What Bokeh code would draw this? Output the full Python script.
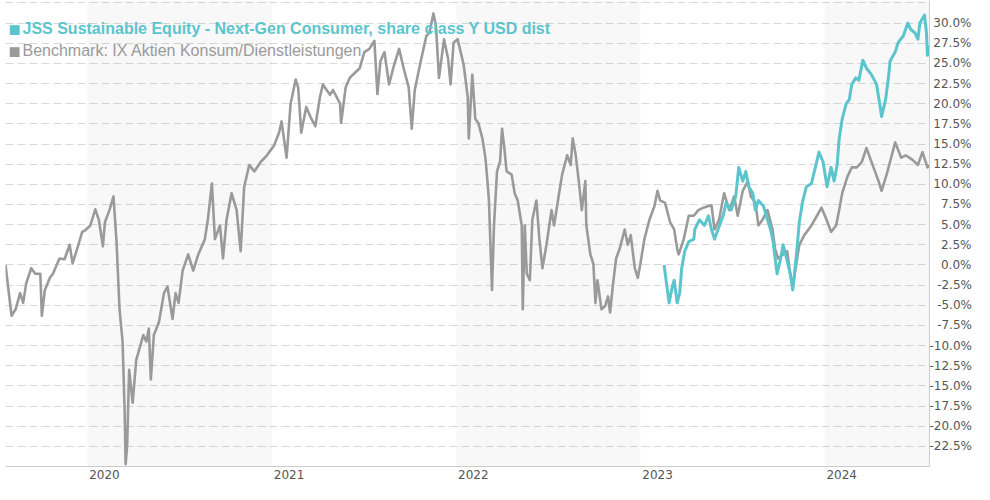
import pandas as pd
from bokeh.plotting import figure
from bokeh.models import (ColumnDataSource, FixedTicker, BoxAnnotation, Label, Range1d)
from bokeh.embed import file_html
from bokeh.resources import INLINE

# ---------------- data ----------------
fund_name = "JSS Sustainable Equity - Next-Gen Consumer, share class Y USD dist"
bench_name = "Benchmark: IX Aktien Konsum/Dienstleistungen"

bench_dates = [
    "2019-07-23", "2019-08-04", "2019-08-12", "2019-08-21", "2019-08-27", "2019-09-02",
    "2019-09-12", "2019-09-20", "2019-09-30", "2019-10-03", "2019-10-09", "2019-10-19",
    "2019-10-25", "2019-11-07", "2019-11-17", "2019-11-27", "2019-12-03", "2019-12-12",
    "2019-12-22", "2019-12-28", "2020-01-07", "2020-01-17", "2020-01-24", "2020-02-01",
    "2020-02-05", "2020-02-14", "2020-02-22", "2020-02-28", "2020-03-05", "2020-03-11",
    "2020-03-15", "2020-03-17", "2020-03-20", "2020-03-24", "2020-03-31", "2020-04-07",
    "2020-04-21", "2020-04-27", "2020-05-02", "2020-05-06", "2020-05-12", "2020-05-22",
    "2020-06-01", "2020-06-08", "2020-06-18", "2020-06-24", "2020-06-30", "2020-07-08",
    "2020-07-19", "2020-07-29", "2020-08-08", "2020-08-21", "2020-08-27", "2020-09-04",
    "2020-09-10", "2020-09-20", "2020-09-26", "2020-10-03", "2020-10-13", "2020-10-23",
    "2020-10-31", "2020-11-07", "2020-11-17", "2020-11-27", "2020-12-10", "2020-12-22",
    "2021-01-05", "2021-01-15", "2021-01-20", "2021-01-30", "2021-02-07", "2021-02-17",
    "2021-02-22", "2021-02-28", "2021-03-10", "2021-03-18", "2021-03-28", "2021-04-06",
    "2021-04-12", "2021-04-16", "2021-04-26", "2021-05-02", "2021-05-16", "2021-05-18",
    "2021-05-27", "2021-06-04", "2021-06-14", "2021-06-24", "2021-07-03", "2021-07-13",
    "2021-07-23", "2021-07-29", "2021-08-04", "2021-08-12", "2021-08-21", "2021-08-31",
    "2021-09-10", "2021-09-19", "2021-09-29", "2021-10-05", "2021-10-11", "2021-10-24",
    "2021-11-03", "2021-11-09", "2021-11-17", "2021-11-22", "2021-11-28", "2021-12-08",
    "2021-12-16", "2021-12-21", "2021-12-27", "2022-01-04", "2022-01-10", "2022-01-16",
    "2022-01-24", "2022-01-26", "2022-02-02", "2022-02-08", "2022-02-14", "2022-02-22",
    "2022-02-28", "2022-03-04", "2022-03-07", "2022-03-13", "2022-03-17", "2022-03-23",
    "2022-03-29", "2022-04-02", "2022-04-06", "2022-04-11", "2022-04-21", "2022-04-27",
    "2022-05-03", "2022-05-11", "2022-05-13", "2022-05-17", "2022-05-21", "2022-05-27",
    "2022-06-01", "2022-06-09", "2022-06-15", "2022-06-21", "2022-06-29", "2022-07-09",
    "2022-07-14", "2022-07-24", "2022-07-30", "2022-08-09", "2022-08-16", "2022-08-20",
    "2022-08-26", "2022-09-01", "2022-09-07", "2022-09-14", "2022-09-16", "2022-09-24",
    "2022-09-30", "2022-10-04", "2022-10-08", "2022-10-16", "2022-10-23", "2022-10-29",
    "2022-11-02", "2022-11-08", "2022-11-14", "2022-11-21", "2022-12-01", "2022-12-07",
    "2022-12-13", "2022-12-21", "2022-12-27", "2023-01-01", "2023-01-09", "2023-01-19",
    "2023-01-29", "2023-02-04", "2023-02-09", "2023-02-19", "2023-03-01", "2023-03-09",
    "2023-03-15", "2023-03-18", "2023-03-28", "2023-04-07", "2023-04-17", "2023-04-26",
    "2023-05-06", "2023-05-16", "2023-05-22", "2023-05-28", "2023-06-06", "2023-06-16",
    "2023-06-26", "2023-07-06", "2023-07-13", "2023-07-23", "2023-08-02", "2023-08-08",
    "2023-08-17", "2023-08-23", "2023-08-31", "2023-09-10", "2023-09-20", "2023-09-25",
    "2023-10-01", "2023-10-11", "2023-10-19", "2023-10-25", "2023-10-30", "2023-11-07",
    "2023-11-12", "2023-11-22", "2023-12-06", "2023-12-17", "2023-12-26", "2024-01-05",
    "2024-01-14", "2024-01-24", "2024-01-30", "2024-02-05", "2024-02-15", "2024-02-24",
    "2024-03-05", "2024-03-15", "2024-03-24", "2024-04-07", "2024-04-17", "2024-04-23",
    "2024-05-03", "2024-05-12", "2024-05-20", "2024-06-01", "2024-06-10", "2024-06-24",
    "2024-07-04", "2024-07-13", "2024-07-23", "2024-07-27",
]
bench_values = [
    0.0, -6.3, -5.5, -3.5, -4.7, -2.3,
    -0.4, -1.1, -1.1, -6.3, -3.1, -1.6,
    -1.1, 0.8, 0.7, 2.5, 0.2, 2.0,
    4.1, 4.3, 4.9, 6.9, 5.6, 2.3,
    5.3, 6.8, 8.5, 2.9, -5.5, -9.5,
    -18.0, -24.7, -22.5, -13.0, -17.1, -11.8,
    -8.7, -9.5, -7.9, -14.2, -8.7, -7.1,
    -3.5, -2.7, -6.7, -3.5, -4.7, -0.7,
    1.3, -0.7, 1.3, 3.2, 5.6, 10.1,
    3.2, 4.9, 0.8, 5.6, 8.9, 6.8,
    1.7, 9.7, 12.4, 11.6, 12.8, 13.6,
    14.8, 16.4, 17.8, 13.3, 20.0, 23.0,
    22.0, 16.4, 19.6, 18.4, 17.2, 20.8,
    22.4, 22.0, 21.1, 21.7, 20.0, 17.6,
    22.0, 23.2, 23.8, 24.4, 26.4, 26.8,
    27.8, 21.2, 25.3, 26.4, 22.4, 24.8,
    26.8, 24.4, 22.0, 16.9, 21.7, 25.6,
    28.4, 28.8, 31.2, 29.6, 23.2, 28.0,
    25.6, 22.4, 27.6, 28.0, 26.4, 24.8,
    20.8, 15.7, 23.6, 18.1, 17.6, 15.7,
    13.3, 10.4, 8.0, -3.1, 4.9, 11.6,
    12.8, 16.9, 14.8, 11.6, 11.2, 8.9,
    8.0, 4.9, -5.5, 4.9, -1.1, -1.9,
    5.6, 8.0, 3.2, -0.4, 2.5, 6.8,
    4.9, 8.9, 11.2, 13.6, 12.4, 15.7,
    13.6, 10.4, 6.8, 10.4, 4.9, 1.3,
    0.1, -4.7, -1.9, -5.5, -5.1, -3.9,
    -5.9, -2.3, 0.8, 2.0, 4.4, 2.5,
    3.7, -0.4, -1.6, 0.1, 3.2, 5.6,
    7.3, 9.2, 8.0, 7.7, 5.3, 4.4,
    2.0, 1.3, 3.2, 6.1, 6.1, 6.8,
    7.1, 7.3, 7.4, 4.4, 5.6, 8.9,
    6.8, 8.5, 6.1, 9.2, 10.4, 8.5,
    7.7, 4.9, 5.6, 6.8, 4.4, 2.0,
    0.8, 1.3, 1.7, -1.1, -2.8, 0.5,
    2.5, 3.7, 4.9, 6.1, 7.1, 5.6,
    4.1, 4.9, 6.8, 8.9, 10.9, 12.1,
    12.1, 12.8, 14.5, 12.1, 10.4, 9.2,
    11.2, 13.3, 15.2, 13.3, 13.6, 13.0,
    12.4, 14.0, 12.1, 12.4,
]

fund_dates = [
    "2023-02-17", "2023-02-27", "2023-03-05", "2023-03-09", "2023-03-15", "2023-03-20",
    "2023-03-24", "2023-03-30", "2023-04-07", "2023-04-17", "2023-04-19", "2023-04-28",
    "2023-05-08", "2023-05-16", "2023-05-22", "2023-05-28", "2023-06-04", "2023-06-14",
    "2023-06-20", "2023-06-30", "2023-07-09", "2023-07-15", "2023-07-23", "2023-07-29",
    "2023-08-04", "2023-08-12", "2023-08-17", "2023-08-23", "2023-09-02", "2023-09-10",
    "2023-09-16", "2023-09-21", "2023-09-29", "2023-10-05", "2023-10-11", "2023-10-19",
    "2023-10-25", "2023-10-30", "2023-11-07", "2023-11-12", "2023-11-18", "2023-11-26",
    "2023-12-06", "2023-12-15", "2023-12-21", "2023-12-29", "2024-01-06", "2024-01-14",
    "2024-01-20", "2024-01-26", "2024-01-30", "2024-02-05", "2024-02-13", "2024-02-19",
    "2024-02-24", "2024-03-03", "2024-03-09", "2024-03-17", "2024-03-24", "2024-04-03",
    "2024-04-13", "2024-04-21", "2024-04-23", "2024-05-01", "2024-05-06", "2024-05-10",
    "2024-05-20", "2024-05-26", "2024-06-05", "2024-06-14", "2024-06-20", "2024-06-28",
    "2024-07-04", "2024-07-08", "2024-07-17", "2024-07-21", "2024-07-23", "2024-07-27",
]
fund_values = [
    0.0, -4.7, -2.8, -1.9, -4.7, -3.5,
    -0.4, 1.7, 2.9, 3.2, 4.4, 5.6,
    4.9, 6.1, 4.4, 3.2, 4.4, 6.1,
    7.7, 6.8, 8.5, 12.1, 10.4, 11.6,
    9.7, 8.9, 6.8, 8.0, 7.3, 5.6,
    4.4, 2.9, -1.1, 0.5, 2.5, 0.5,
    -1.1, -3.1, 1.7, 5.3, 7.7, 9.7,
    10.1, 12.4, 14.0, 12.8, 9.7, 12.1,
    10.4, 12.4, 15.7, 18.1, 20.0, 20.5,
    22.4, 23.2, 22.9, 25.4, 24.4, 23.6,
    22.4, 19.3, 18.4, 20.5, 22.9, 25.3,
    26.4, 27.6, 28.4, 30.0, 29.2, 28.8,
    28.0, 30.0, 31.0, 28.8, 26.0, 27.2,
]

ytick_values = [-22.5, -20.0, -17.5, -15.0, -12.5, -10.0, -7.5, -5.0, -2.5, 0.0,
                2.5, 5.0, 7.5, 10.0, 12.5, 15.0, 17.5, 20.0, 22.5, 25.0, 27.5, 30.0]
ytick_labels = ["-22.5%", "-20.0%", "-17.5%", "-15.0%", "-12.5%", "-10.0%", "-7.5%",
                "-5.0%", "-2.5%", "0.0%", "2.5%", "5.0%", "7.5%", "10.0%", "12.5%",
                "15.0%", "17.5%", "20.0%", "22.5%", "25.0%", "27.5%", "30.0%"]
grid_values = ytick_values + [32.5]   # top gridline has no label in the reference

year_starts = ["2020-01-01", "2021-01-01", "2022-01-01", "2023-01-01", "2024-01-01"]
year_labels = ["2020", "2021", "2022", "2023", "2024"]

shade_starts = ["2020-01-01", "2022-01-01", "2024-01-01"]
shade_ends = ["2021-01-01", "2023-01-01", "2024-07-27"]

x_start, x_end = "2019-07-23", "2024-07-27"
y_min, y_max = -25.0, 32.8

# ---------------- styling ----------------
TEAL = "#5bc5cd"
GRAY = "#9a9a9a"
TICK_COLOR = "#555555"
TICK_FONT = "DejaVu Sans"

FIG_SP = "\u2007"    # digit-wide space
PUNC_SP = "\u2008"   # period-wide space (~ width of "-")


def right_align(lbl):
    # pad so that every label ends at the same x, like the reference
    digits = len(lbl.lstrip("-").split(".")[0])
    pad = FIG_SP * (2 - digits)
    if not lbl.startswith("-"):
        pad += PUNC_SP
    return pad + lbl


def ms(d):
    return pd.Timestamp(d).value / 1e6


x0 = pd.Timestamp(x_start).to_pydatetime()
x1 = pd.Timestamp(x_end).to_pydatetime()

p = figure(width=974, height=484, x_axis_type="datetime", y_axis_location="right",
           x_range=Range1d(x0, x1), y_range=Range1d(y_min, y_max),
           output_backend="svg", toolbar_location=None,
           min_border_left=5, min_border_top=0, min_border_bottom=0,
           min_border_right=0)
p.outline_line_color = None
p.background_fill_color = "white"
p.border_fill_color = "white"

# alternating year shading
for s, e in zip(shade_starts, shade_ends):
    p.add_layout(BoxAnnotation(left=pd.Timestamp(s).to_pydatetime(),
                               right=pd.Timestamp(e).to_pydatetime(),
                               fill_color="#000000", fill_alpha=0.028,
                               line_color=None, level="underlay"))

# grid
p.xgrid.visible = False
p.ygrid.ticker = FixedTicker(ticks=grid_values)
p.ygrid.grid_line_color = "#d9d9d9"
p.ygrid.grid_line_dash = "8 4"
p.ygrid.grid_line_width = 1

# y axis (right)
yax = p.yaxis[0]
yax.ticker = FixedTicker(ticks=ytick_values)
yax.major_label_overrides = {v: right_align(t) for v, t in zip(ytick_values, ytick_labels)}

# x axis (bottom) : labels start at the year boundary
xax = p.xaxis[0]
xax.ticker = FixedTicker(ticks=[ms(d) for d in year_starts])
xax.major_label_overrides = {ms(d): FIG_SP * 4 + PUNC_SP + t
                             for d, t in zip(year_starts, year_labels)}

for ax in (xax, yax):
    ax.major_label_text_font = TICK_FONT
    ax.major_label_text_font_size = "12px"
    ax.major_label_text_color = TICK_COLOR
    ax.major_tick_line_color = None
    ax.minor_tick_line_color = None
    ax.major_tick_out = 0
    ax.major_tick_in = 0
    ax.minor_tick_out = 0
    ax.axis_line_color = "#cccccc"
    ax.axis_line_width = 1
yax.major_label_standoff = 0
xax.major_label_standoff = 1

# series
bench_src = ColumnDataSource(dict(date=pd.to_datetime(bench_dates), value=bench_values))
fund_src = ColumnDataSource(dict(date=pd.to_datetime(fund_dates), value=fund_values))
p.line(x="date", y="value", source=bench_src, line_color=GRAY, line_width=2.6,
       line_join="round")
p.line(x="date", y="value", source=fund_src, line_color=TEAL, line_width=3,
       line_join="round")

# legend (square marker + text)
legend_rows = [(fund_name, TEAL, "bold", 438), (bench_name, GRAY, "normal", 416)]
for text, color, style, ypos in legend_rows:
    p.add_layout(Label(x=3, y=ypos, x_units="screen", y_units="screen",
                       text="\u25a0", text_font="Liberation Sans",
                       text_font_size="20px", text_color=color,
                       text_baseline="middle"))
    p.add_layout(Label(x=17, y=ypos, x_units="screen", y_units="screen",
                       text=text, text_font="Liberation Sans",
                       text_font_size="16px", text_font_style=style,
                       text_color=color, text_baseline="middle"))

open("out.html", "w").write(file_html(p, INLINE))
